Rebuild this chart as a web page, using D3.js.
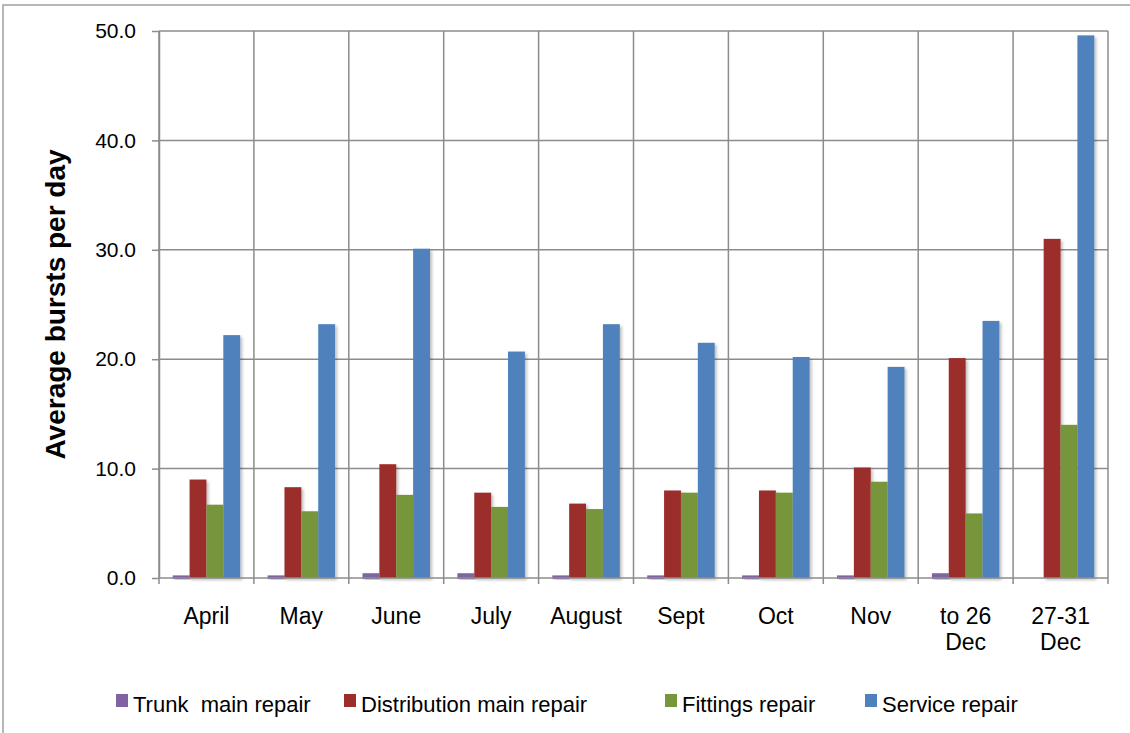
<!DOCTYPE html>
<html>
<head>
<meta charset="utf-8">
<script src="https://cdn.jsdelivr.net/npm/d3@7/dist/d3.min.js"></script>
<style>
body { margin: 0; background: #fff; }
svg { display: block; font-family: "Liberation Sans", Arial, sans-serif; }
</style>
</head>
<body>
<svg id="chart" width="1130" height="733"></svg>
<script>
// categories (multi-line labels split on \n)
var categories = ['April', 'May', 'June', 'July', 'August', 'Sept', 'Oct', 'Nov', 'to 26\nDec', '27-31\nDec'];
var seriesNames = ['Trunk  main repair', 'Distribution main repair', 'Fittings repair', 'Service repair'];
var seriesColors = ['#8064a2', '#9b2d2a', '#77953a', '#4f81bd'];

var trunkMain = [0.1, 0.1, 0.3, 0.3, 0.1, 0.1, 0.1, 0.1, 0.3, 0.0];
var distributionMain = [9.0, 8.3, 10.4, 7.8, 6.8, 8.0, 8.0, 10.1, 20.1, 31.0];
var fittings = [6.7, 6.1, 7.6, 6.5, 6.3, 7.8, 7.8, 8.8, 5.9, 14.0];
var service = [22.2, 23.2, 30.1, 20.7, 23.2, 21.5, 20.2, 19.3, 23.5, 49.6];

var yTicks = [0, 10, 20, 30, 40, 50];

var series = [trunkMain, distributionMain, fittings, service];

var svg = d3.select('#chart');
var plotLeft = 159, plotRight = 1108, plotTop = 31, plotBottom = 578;

// outer frame
svg.append('rect')
    .attr('x', 3).attr('y', 5)
    .attr('width', 1140).attr('height', 760)
    .attr('fill', 'none')
    .attr('stroke', '#a0a0a0')
    .attr('stroke-width', 1.5);

var defs = svg.append('defs');
var f = defs.append('filter').attr('id', 'shadow')
    .attr('x', '-30%').attr('y', '-5%').attr('width', '160%').attr('height', '115%');
f.append('feDropShadow')
    .attr('dx', 2).attr('dy', 2).attr('stdDeviation', 1.6)
    .attr('flood-color', '#000').attr('flood-opacity', 0.25);

var x0 = d3.scaleBand().domain(categories).range([plotLeft, plotRight]).padding(0);
var x1 = d3.scaleBand().domain(d3.range(series.length))
    .range([13.7, x0.bandwidth() - 13.7]).padding(0);
var y = d3.scaleLinear().domain([0, 50]).range([plotBottom, plotTop]);

var gridColor = '#8c8c8c';

// horizontal gridlines
svg.append('g').selectAll('line').data(yTicks.slice(1)).join('line')
    .attr('x1', plotLeft).attr('x2', plotRight)
    .attr('y1', function(d) { return y(d); })
    .attr('y2', function(d) { return y(d); })
    .attr('stroke', gridColor).attr('stroke-width', 1.5);

// vertical gridlines at category boundaries
var bounds = categories.map(function(c) { return x0(c); }).concat([plotRight]);
svg.append('g').selectAll('line').data(bounds).join('line')
    .attr('x1', function(d) { return d; })
    .attr('x2', function(d) { return d; })
    .attr('y1', plotTop).attr('y2', plotBottom + 6)
    .attr('stroke', gridColor).attr('stroke-width', 1.5);

// bars
var groups = svg.append('g').selectAll('g').data(categories).join('g')
    .attr('transform', function(c) { return 'translate(' + x0(c) + ',0)'; });
groups.selectAll('rect')
    .data(function(c, i) {
        return series.map(function(s, k) { return { k: k, v: s[i] }; });
    })
    .join('rect')
    .attr('x', function(d) { return x1(d.k); })
    .attr('width', x1.bandwidth())
    .attr('y', function(d) { return y(d.v) - (d.k === 0 && d.v > 0 ? 1.5 : 0); })
    .attr('height', function(d) { return y(0) - y(d.v) + (d.k === 0 && d.v > 0 ? 2.5 : 0); })
    .attr('fill', function(d) { return seriesColors[d.k]; })
    .attr('filter', 'url(#shadow)');

// zero line
svg.append('line')
    .attr('x1', plotLeft).attr('x2', plotRight)
    .attr('y1', y(0)).attr('y2', y(0))
    .attr('stroke', gridColor).attr('stroke-width', 1.5);

// y axis
var yAxis = svg.append('g')
    .attr('transform', 'translate(' + plotLeft + ',0)')
    .call(d3.axisLeft(y).tickValues(yTicks).tickFormat(d3.format('.1f'))
        .tickSizeInner(7).tickSizeOuter(0).tickPadding(16));
yAxis.select('.domain').attr('stroke', gridColor).attr('stroke-width', 1.5);
yAxis.selectAll('.tick line').attr('stroke', gridColor).attr('stroke-width', 1.5);
yAxis.selectAll('.tick text')
    .attr('font-size', 21).attr('fill', '#000')
    .attr('font-family', '"Liberation Sans", Arial, sans-serif');

// x labels
var xl = svg.append('g').selectAll('text').data(categories).join('text')
    .attr('x', function(c) { return x0(c) + x0.bandwidth() / 2; })
    .attr('y', 624)
    .attr('text-anchor', 'middle')
    .attr('font-size', 23)
    .attr('fill', '#000');
xl.each(function(c) {
    var t = d3.select(this);
    c.split('\n').forEach(function(line, i) {
        t.append('tspan')
            .attr('x', x0(c) + x0.bandwidth() / 2)
            .attr('dy', i === 0 ? 0 : 26)
            .text(line);
    });
});

// y title
svg.append('text')
    .attr('transform', 'translate(65,' + ((plotTop + plotBottom) / 2) + ') rotate(-90)')
    .attr('text-anchor', 'middle')
    .attr('font-size', 28)
    .attr('font-weight', 'bold')
    .attr('fill', '#000')
    .text('Average bursts per day');

// legend
var legendX = [116, 344, 665, 865];
var legend = svg.append('g').selectAll('g').data(seriesNames).join('g')
    .attr('transform', function(d, i) { return 'translate(' + legendX[i] + ',694)'; });
legend.append('rect')
    .attr('width', 12).attr('height', 13)
    .attr('fill', function(d, i) { return seriesColors[i]; });
legend.append('text')
    .attr('x', 17).attr('y', 18)
    .attr('font-size', 22)
    .attr('fill', '#000')
    .style('white-space', 'pre')
    .text(function(d) { return d; });
</script>
</body>
</html>
